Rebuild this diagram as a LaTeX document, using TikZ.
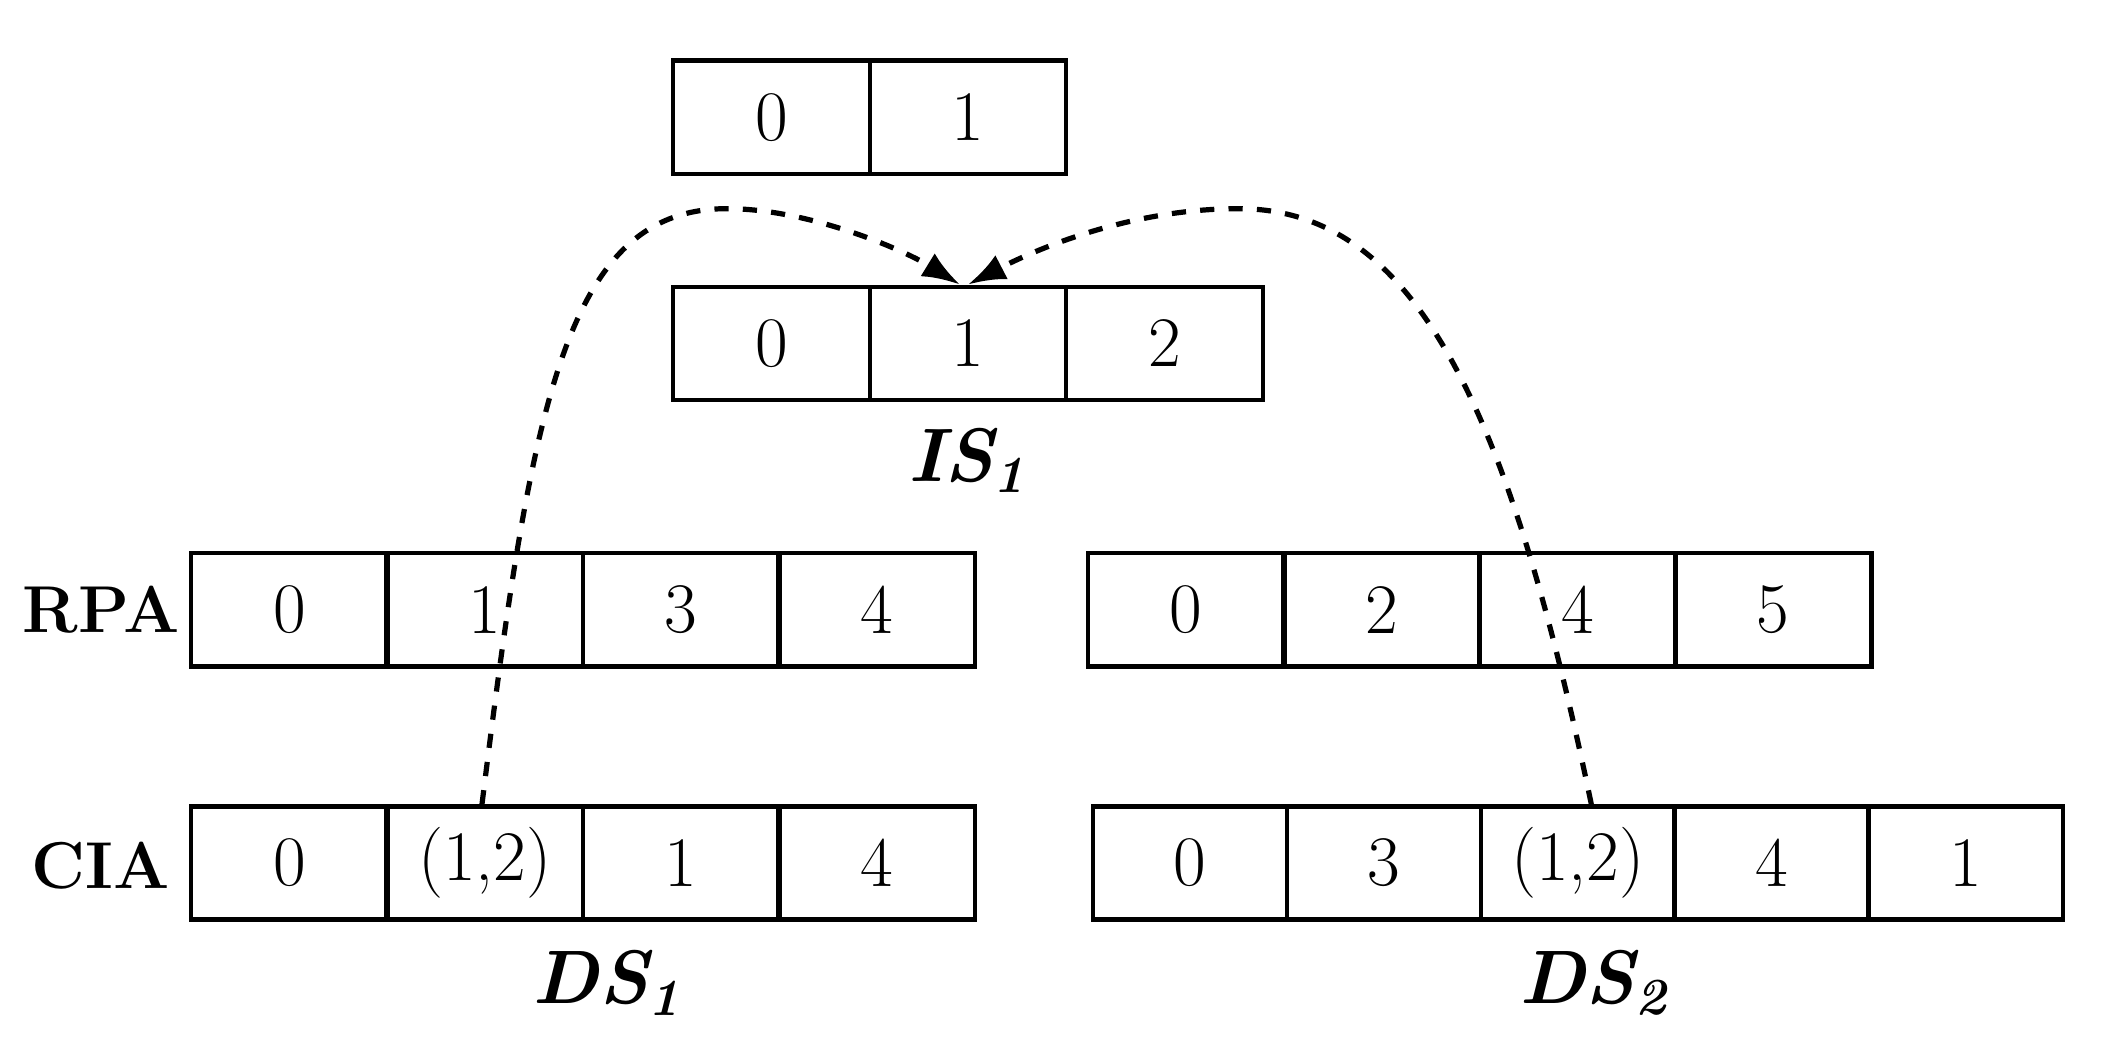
\documentclass[tikz,border=0pt]{standalone}
\usetikzlibrary{arrows.meta}
\newcommand{\bsub}[1]{\raisebox{-0.35ex}{\fontsize{11}{12}\selectfont #1}}
\begin{document}
\begin{tikzpicture}[x=0.01cm,y=-0.01cm,
 cell/.style={draw,line width=0.9pt,minimum height=0.84cm,inner sep=0pt,font=\fontsize{15}{18}\selectfont},
 w/.style={cell,minimum width=1.46cm},
 w5/.style={cell,minimum width=1.443cm},
 lab/.style={font=\fontsize{14}{17}\selectfont\bfseries},
 ds/.style={font=\fontsize{16}{19}\selectfont\bfseries\itshape},
 arr/.style={dashed,line width=1.1pt,-{Latex[length=2.8mm,width=2mm]}}]
\useasboundingbox (0,0) rectangle (1568,774);
% top array
\node[w] (t0) at (573,87) {0};
\node[w] (t1) at (719,87) {1};
% IS1
\node[w] (i0) at (573,255) {0};
\node[w] (i1) at (719,255) {1};
\node[w] (i2) at (865,255) {2};
\node[ds] (is) at (718,342) {IS\bsub{1}};
% RPA
\node[lab] (rpa) at (75,453) {RPA};
\node[w] (r0) at (215,453) {0};
\node[w] (r1) at (360,453) {1};
\node[w] (r2) at (506,453) {3};
\node[w] (r3) at (651,453) {4};
\node[w] (q0) at (881,453) {0};
\node[w] (q1) at (1026,453) {2};
\node[w] (q2) at (1172,453) {4};
\node[w] (q3) at (1317,453) {5};
% CIA
\node[lab] (cia) at (75,643) {CIA};
\node[w] (c0) at (215,641) {0};
\node[w] (c1) at (360,641) {(1,2)};
\node[w] (c2) at (506,641) {1};
\node[w] (c3) at (651,641) {4};
\node[w5] (d0) at (884,641) {0};
\node[w5] (d1) at (1028,641) {3};
\node[w5] (d2) at (1172,641) {(1,2)};
\node[w5] (d3) at (1316,641) {4};
\node[w5] (d4) at (1460,641) {1};
\node[ds] (ds1) at (450,730) {DS\bsub{1}};
\node[ds] (ds2) at (1183,730) {DS\bsub{2}};
% arrows
\coordinate (e1) at ([xshift=-0.06cm]i1.north);
\coordinate (e2) at ([xshift=0.0cm]i1.north);
\draw[arr] ([xshift=-0.02cm]c1.north) .. controls (395,300) and (420,155) .. (540,155) .. controls (600,155) and (670,185) .. (e1);
\draw[arr] ([xshift=0.1cm]d2.north) .. controls (1120,300) and (1050,155) .. (920,155) .. controls (840,155) and (770,185) .. (e2);
\end{tikzpicture}
\end{document}
